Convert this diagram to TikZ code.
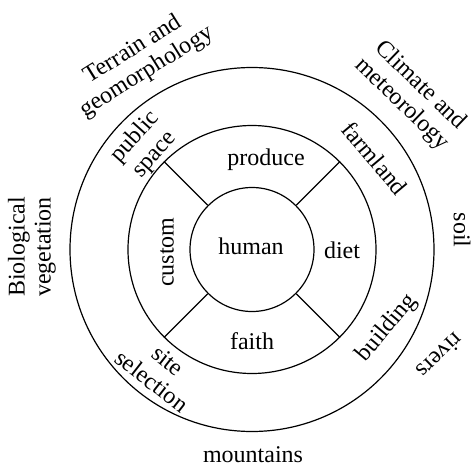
\documentclass[tikz,border=0pt]{standalone}
\usepackage{fontspec}
\setmainfont{Liberation Serif}
\begin{document}
\begin{tikzpicture}[x=1pt,y=-1pt,
  ring/.style={draw,circle,line width=1.2pt,inner sep=0pt},
  spoke/.style={line width=1.2pt},
  lbl/.style={inner sep=0pt,align=center,font=\fontsize{24}{26}\selectfont}]
\useasboundingbox (0,0) rectangle (472,469);
\node[ring,minimum size=364pt] (outer) at (252,249.5) {};
\node[ring,minimum size=248pt] (middle) at (252,249.5) {};
\node[ring,minimum size=124pt] (inner) at (252,249.5) {};
\foreach \a in {45,135,225,315} \draw[spoke] (inner.\a) -- (middle.\a);
\node[lbl] (human) at (251,246) {human};
\node[lbl] (produce) at (266,160) {produce};
\node[lbl] (faith) at (252,341) {faith};
\node[lbl,rotate=90] (custom) at (167,252) {custom};
\node[lbl] (diet) at (342,250) {diet};
\node[lbl,rotate=48] (public) at (145,146) {public\\space};
\node[lbl,rotate=-50] (farmland) at (375,158) {farmland};
\node[lbl,rotate=50] (building) at (387,328) {building};
\node[lbl,rotate=-38] (site) at (160,371) {site\\selection};
\node[lbl,rotate=32] (terrain) at (140,61) {Terrain and\\geomorphology};
\node[lbl,rotate=-44] (climate) at (411,95) {Climate and\\meteorology};
\node[lbl,rotate=-90] (soil) at (462,230) {soil};
\node[lbl,rotate=224] (rivers) at (440,356) {rivers};
\node[lbl] (mountains) at (253,455) {mountains};
\node[lbl,rotate=90] (bio) at (32,247) {Biological\\vegetation};
\end{tikzpicture}
\end{document}
